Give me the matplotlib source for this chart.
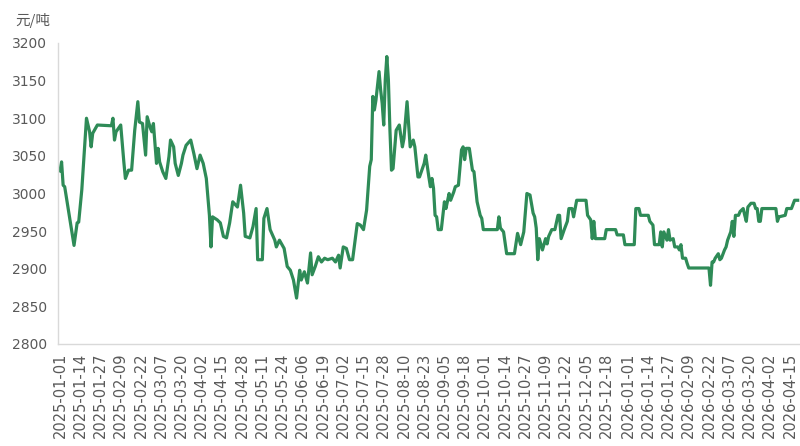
import pandas as pd
import matplotlib
matplotlib.use("Agg")
import matplotlib.pyplot as plt

# price series as (day offset from start, price) breakpoints
start_date = "2025-01-01"
day_offsets = [
    0, 1, 2, 3, 9, 11, 12, 14, 17, 19, 20, 21, 24, 33, 34, 35, 36, 39, 41, 42,
    44, 46, 48, 50, 51, 53, 55, 56, 58, 59, 60, 62, 63, 64, 66, 68, 70, 71, 73, 74,
    76, 78, 79, 81, 84, 86, 88, 90, 92, 94, 96, 97, 98, 101, 103, 105, 107, 109, 111, 114,
    116, 118, 119, 122, 124, 126, 127, 130, 131, 133, 135, 138, 139, 141, 144, 146, 148, 150, 152, 154,
    155, 157, 159, 161, 162, 164, 166, 168, 170, 172, 175, 177, 179, 180, 182, 184, 186, 188, 191, 193,
    195, 197, 199, 200, 201, 202, 203, 205, 206, 207, 208, 209, 210, 211, 212, 213, 214, 216, 218, 220,
    221, 223, 225, 227, 228, 230, 231, 234, 235, 237, 238, 239, 240, 241, 242, 243, 245, 247, 248, 250,
    251, 253, 254, 256, 258, 259, 260, 261, 263, 265, 266, 268, 270, 271, 272, 281, 282, 283, 285, 287,
    292, 294, 296, 298, 300, 302, 304, 305, 306, 307, 308, 310, 312, 313, 314, 316, 318, 320, 321, 322,
    324, 326, 327, 329, 330, 332, 338, 339, 341, 342, 343, 344, 350, 351, 357, 358, 362, 363, 369, 370,
    372, 373, 378, 379, 381, 382, 385, 386, 387, 388, 390, 391, 392, 394, 395, 397, 398, 399, 400, 402,
    403, 404, 417, 418, 419, 420, 421, 423, 424, 425, 427, 428, 429, 431, 432, 433, 434, 436, 437, 439,
    440, 441, 442, 444, 446, 447, 448, 449, 450, 451, 460, 461, 462, 466, 467, 470, 472, 474,
]
prices = [
    3030, 3042, 3011, 3009, 2931, 2961, 2962, 3005, 3100, 3082, 3062, 3080, 3091, 3090, 3100, 3071, 3082, 3091, 3042, 3020,
    3031, 3031, 3084, 3122, 3095, 3093, 3051, 3102, 3087, 3082, 3093, 3040, 3060, 3042, 3029, 3020, 3049, 3071, 3062, 3040,
    3024, 3040, 3051, 3064, 3071, 3053, 3033, 3051, 3040, 3020, 2971, 2929, 2969, 2965, 2961, 2943, 2941, 2961, 2989, 2982,
    3011, 2974, 2943, 2941, 2956, 2980, 2912, 2912, 2967, 2980, 2952, 2938, 2929, 2938, 2927, 2903, 2898, 2885, 2861, 2898,
    2885, 2896, 2881, 2921, 2892, 2903, 2916, 2909, 2914, 2912, 2914, 2909, 2918, 2901, 2929, 2927, 2912, 2912, 2960, 2958,
    2952, 2978, 3036, 3045, 3129, 3111, 3124, 3162, 3138, 3120, 3091, 3151, 3182, 3151, 3084, 3031, 3033, 3084, 3091, 3062,
    3073, 3122, 3062, 3071, 3062, 3022, 3022, 3040, 3051, 3022, 3009, 3020, 3007, 2971, 2969, 2952, 2952, 2989, 2980, 3000,
    2991, 3002, 3009, 3011, 3058, 3062, 3045, 3060, 3060, 3031, 3029, 2989, 2971, 2967, 2952, 2952, 2969, 2954, 2949, 2920,
    2920, 2947, 2932, 2949, 3000, 2998, 2974, 2969, 2954, 2912, 2940, 2925, 2940, 2933, 2943, 2952, 2952, 2971, 2971, 2940,
    2952, 2963, 2980, 2980, 2969, 2991, 2991, 2971, 2965, 2940, 2963, 2940, 2940, 2952, 2952, 2945, 2945, 2932, 2932, 2980,
    2980, 2971, 2971, 2963, 2958, 2932, 2932, 2949, 2929, 2949, 2938, 2952, 2938, 2940, 2929, 2929, 2925, 2932, 2914, 2914,
    2907, 2901, 2901, 2878, 2909, 2909, 2914, 2920, 2912, 2914, 2925, 2929, 2938, 2949, 2963, 2943, 2971, 2971, 2976, 2980,
    2971, 2963, 2982, 2987, 2987, 2980, 2980, 2963, 2963, 2980, 2980, 2963, 2969, 2971, 2980, 2980, 2991, 2991,
]

tick_labels = [
    "2025-01-01", "2025-01-14", "2025-01-27", "2025-02-09", "2025-02-22", "2025-03-07",
    "2025-03-20", "2025-04-02", "2025-04-15", "2025-04-28", "2025-05-11", "2025-05-24",
    "2025-06-06", "2025-06-19", "2025-07-02", "2025-07-15", "2025-07-28", "2025-08-10",
    "2025-08-23", "2025-09-05", "2025-09-18", "2025-10-01", "2025-10-14", "2025-10-27",
    "2025-11-09", "2025-11-22", "2025-12-05", "2025-12-18", "2026-01-01", "2026-01-14",
    "2026-01-27", "2026-02-09", "2026-02-22", "2026-03-07", "2026-03-20", "2026-04-02",
    "2026-04-15",
]
y_ticks = [2800, 2850, 2900, 2950, 3000, 3050, 3100, 3150, 3200]

dates = pd.Timestamp(start_date) + pd.to_timedelta(day_offsets, unit="D")
tick_dates = pd.to_datetime(tick_labels)

fig = plt.figure(figsize=(8, 4.46), dpi=100)
ax = fig.add_axes([0.0725, 0.2287, 0.9275, 0.6749])

ax.plot(dates, prices, color="#2e8b57", linewidth=2.3, solid_joinstyle="round")

ax.set_ylim(2800, 3200)
ax.set_yticks(y_ticks)
ax.set_xlim(pd.Timestamp(start_date) - pd.Timedelta(days=1.3),
            pd.Timestamp(start_date) + pd.Timedelta(days=475.5))
ax.set_xticks(tick_dates)
ax.set_xticklabels(tick_labels, rotation=90)

for side in ["top", "right"]:
    ax.spines[side].set_visible(False)
for side in ["left", "bottom"]:
    ax.spines[side].set_color("#d9d9d9")
    ax.spines[side].set_linewidth(1.0)

ax.tick_params(axis="y", length=0, pad=8, labelsize=10, labelcolor="#595959")
ax.tick_params(axis="x", length=0, pad=6, labelsize=10.5, labelcolor="#595959")

fig.text(0.019, 0.955, "元/吨", fontsize=10.5, color="#595959",
         family=["Noto Sans CJK SC", "DejaVu Sans"], va="center", ha="left")

fig.savefig("out.png", dpi=100, facecolor="white")
